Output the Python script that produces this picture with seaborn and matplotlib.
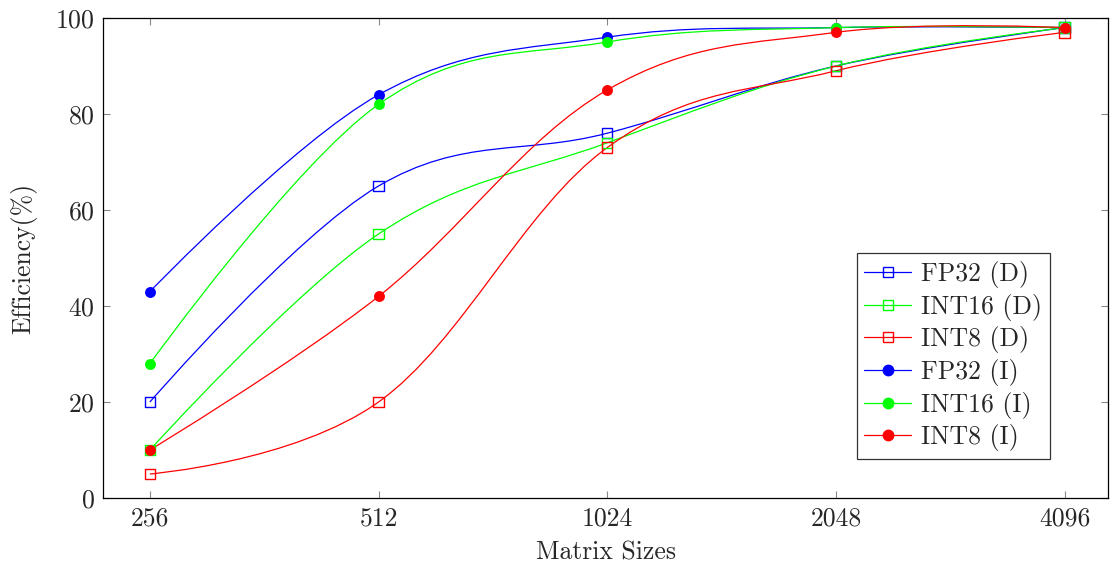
import numpy as np
import pandas as pd
import matplotlib
matplotlib.use("Agg")
import matplotlib.pyplot as plt
from matplotlib.path import Path
from matplotlib.patches import PathPatch
from matplotlib.lines import Line2D
import seaborn as sns

# data
sizes = ["256", "512", "1024", "2048", "4096"]
series_names = ["FP32 (D)", "INT16 (D)", "INT8 (D)", "FP32 (I)", "INT16 (I)", "INT8 (I)"]
fp32_d = [20, 65, 76, 90, 98]
int16_d = [10, 55, 74, 90, 98]
int8_d = [5, 20, 73, 89, 97]
fp32_i = [43, 84, 96, 98, 98]
int16_i = [28, 82, 95, 98, 98]
int8_i = [10, 42, 85, 97, 98]

colors = {"FP32": (0, 0, 1), "INT16": (0, 1, 0), "INT8": (1, 0, 0)}
all_values = [fp32_d, int16_d, int8_d, fp32_i, int16_i, int8_i]

rows = []
for name, vals in zip(series_names, all_values):
    for i, v in enumerate(vals):
        rows.append({"series": name, "pos": i, "size": sizes[i], "eff": v})
df = pd.DataFrame(rows)

sns.set_style("ticks")
plt.rcParams["font.family"] = ["cmr10", "DejaVu Serif"]
plt.rcParams["axes.formatter.use_mathtext"] = True
plt.rcParams["mathtext.fontset"] = "cm"

fig = plt.figure(figsize=(11.1, 5.65), dpi=100)
ax = fig.add_axes([103 / 1110, 67 / 565, 1005 / 1110, 480 / 565])


def smooth_path(xs, ys, tension=0.55):
    # tikz-like smooth curve: cubic bezier through the points
    pts = np.column_stack([xs, ys]).astype(float)
    n = len(pts)
    k = tension / 3.0
    verts = [pts[0]]
    codes = [Path.MOVETO]
    for i in range(n - 1):
        p0 = pts[i - 1] if i > 0 else pts[i]
        p1 = pts[i]
        p2 = pts[i + 1]
        p3 = pts[i + 2] if i + 2 < n else pts[i + 1]
        c1 = p1 + k * (p2 - p0) if i > 0 else p1
        c2 = p2 - k * (p3 - p1) if i + 2 < n else p2
        verts += [c1, c2, p2]
        codes += [Path.CURVE4] * 3
    return Path(verts, codes)


handles = []
for name in series_names:
    sub = df[df["series"] == name]
    col = colors[name.split()[0]]
    filled = "(I)" in name
    path = smooth_path(sub["pos"].values, sub["eff"].values)
    ax.add_patch(PathPatch(path, facecolor="none", edgecolor=col, lw=0.9, zorder=2))
    if filled:
        sns.scatterplot(data=sub, x="pos", y="eff", ax=ax, color=col, marker="o",
                        s=62, edgecolor=col, linewidth=0, zorder=3, legend=False)
    else:
        sns.scatterplot(data=sub, x="pos", y="eff", ax=ax, marker="s", s=55,
                        facecolor="none", edgecolor=col, linewidth=1.0, zorder=3,
                        legend=False)
    handles.append(Line2D([], [], color=col, lw=0.9,
                          marker="o" if filled else "s",
                          markersize=7.5 if filled else 7,
                          markerfacecolor=col if filled else "none",
                          markeredgecolor=col, markeredgewidth=1.0))

ax.set_xlim(-0.205, 4.19)
ax.set_ylim(0, 100)
ax.set_xticks(range(len(sizes)))
ax.set_xticklabels(sizes)
ax.set_yticks([0, 20, 40, 60, 80, 100])
ax.tick_params(direction="in", length=5, width=0.8, color="#888888",
               top=True, right=True, labelsize=18.5, pad=6)
for sp in ax.spines.values():
    sp.set_visible(True)
    sp.set_linewidth(0.9)
    sp.set_color("black")

ax.set_xlabel("Matrix Sizes", fontsize=18.5, labelpad=8)
ax.set_ylabel("Efficiency(%)", fontsize=18.5, labelpad=13)

leg = ax.legend(handles, series_names, loc="lower right",
                bbox_to_anchor=(0.942, 0.081), borderaxespad=0,
                fancybox=False, frameon=True, edgecolor="black", fontsize=18.5,
                handlelength=1.8, handletextpad=0.4, labelspacing=0.22,
                borderpad=0.3, markerfirst=True)
leg.get_frame().set_linewidth(0.9)

fig.savefig("out.png", dpi=100)
